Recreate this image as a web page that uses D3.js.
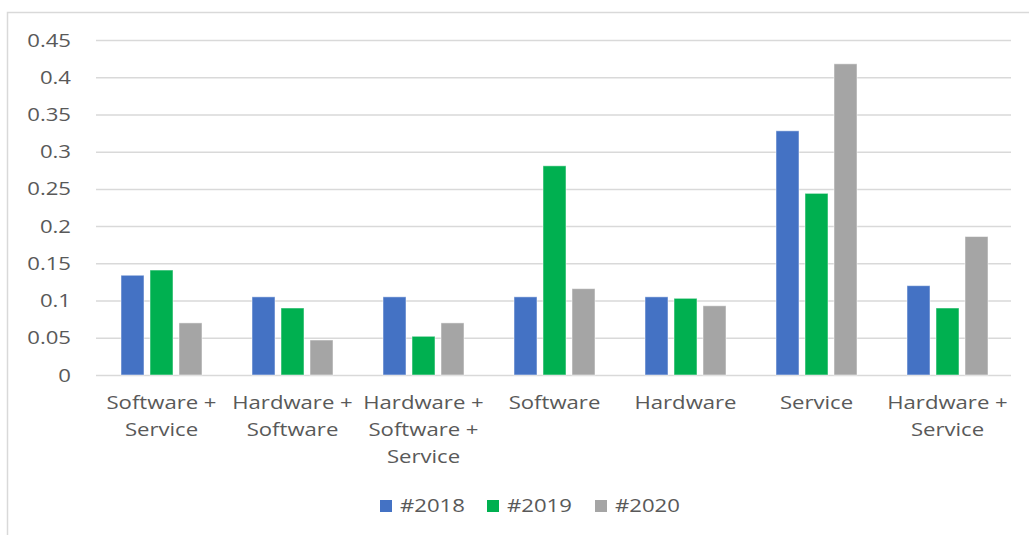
<!DOCTYPE html>
<html>
<head>
<meta charset="utf-8">
<script src="https://cdn.jsdelivr.net/npm/d3@7"></script>
<style>
  html, body { margin: 0; padding: 0; background: #fff; }
  svg { display: block; }
  text { font-family: "Open Sans", sans-serif; fill: #595959; }
</style>
</head>
<body>
<svg id="chart" width="1029" height="535"></svg>
<script>
// Share of projects by offering type, per year
const categories = [
  "Software +\nService",
  "Hardware +\nSoftware",
  "Hardware +\nSoftware +\nService",
  "Software",
  "Hardware",
  "Service",
  "Hardware +\nService"
];
const series = ["#2018", "#2019", "#2020"];
const values2018 = [0.134, 0.105, 0.105, 0.105, 0.105, 0.328, 0.120];
const values2019 = [0.141, 0.090, 0.052, 0.281, 0.103, 0.244, 0.090];
const values2020 = [0.070, 0.047, 0.070, 0.116, 0.093, 0.418, 0.186];
const yTicks = [0, 0.05, 0.1, 0.15, 0.2, 0.25, 0.3, 0.35, 0.4, 0.45];
const colors = ["#4472C4", "#00B050", "#A5A5A5"];

const seriesValues = [values2018, values2019, values2020];
const rows = categories.map((c, i) => ({
  cat: c,
  vals: series.map((s, j) => ({ key: s, value: seriesValues[j][i], color: colors[j] }))
}));

const svg = d3.select("#chart");
const plot = { left: 96, right: 1013, top: 40, bottom: 375 };
const stretch = 1.23; // wide letterforms

// chart frame (top and left edges)
svg.append("path")
  .attr("d", "M7.5,535 V12.5 H1029")
  .attr("fill", "none")
  .attr("stroke", "#d9d9d9")
  .attr("stroke-width", 1.5);

const x0 = d3.scaleBand().domain(categories).range([plot.left, plot.right]);
const groupW = 81;
const x1 = d3.scaleBand().domain(series)
  .range([(x0.bandwidth() - groupW) / 2, (x0.bandwidth() + groupW) / 2])
  .paddingInner(0.207);
const y = d3.scaleLinear().domain([0, 0.45]).range([plot.bottom, plot.top]);

// gridlines + y labels via axis
const yAxis = d3.axisLeft(y).tickValues(yTicks).tickSize(-(plot.right - 2 - plot.left))
  .tickFormat(d => d3.format("")(+d.toFixed(2)));
const gy = svg.append("g").attr("transform", `translate(${plot.left},0)`).call(yAxis);
gy.select(".domain").remove();
gy.selectAll(".tick line").attr("stroke", "#d9d9d9").attr("stroke-width", 1.5);
gy.selectAll(".tick text").remove();
yTicks.forEach(t => {
  svg.append("text")
    .attr("transform", `translate(71,${y(t) + 6.5}) scale(${stretch},1)`)
    .attr("text-anchor", "end")
    .attr("font-size", 18)
    .text(d3.format("")(+t.toFixed(2)));
});

// bars
const groups = svg.selectAll("g.grp").data(rows).join("g")
  .attr("class", "grp")
  .attr("transform", d => `translate(${x0(d.cat)},0)`);
groups.selectAll("rect").data(d => d.vals).join("rect")
  .attr("x", d => x1(d.key))
  .attr("width", x1.bandwidth())
  .attr("y", d => y(d.value))
  .attr("height", d => y(0) - y(d.value))
  .attr("fill", d => d.color)
  .attr("stroke", "#ffffff")
  .attr("stroke-opacity", 0.5)
  .attr("stroke-width", 1);

// category labels
rows.forEach(r => {
  const cx = x0(r.cat) + x0.bandwidth() / 2;
  r.cat.split("\n").forEach((line, k) => {
    svg.append("text")
      .attr("transform", `translate(${cx},${409 + k * 27}) scale(${stretch},1)`)
      .attr("text-anchor", "middle")
      .attr("font-size", 18)
      .text(line);
  });
});

// legend
const legendX = [380, 487, 595];
series.forEach((s, j) => {
  svg.append("rect")
    .attr("x", legendX[j]).attr("y", 500)
    .attr("width", 12).attr("height", 12)
    .attr("fill", colors[j]);
  svg.append("text")
    .attr("transform", `translate(${legendX[j] + 20},512) scale(${stretch},1)`)
    .attr("font-size", 18)
    .text(s);
});
</script>
</body>
</html>
